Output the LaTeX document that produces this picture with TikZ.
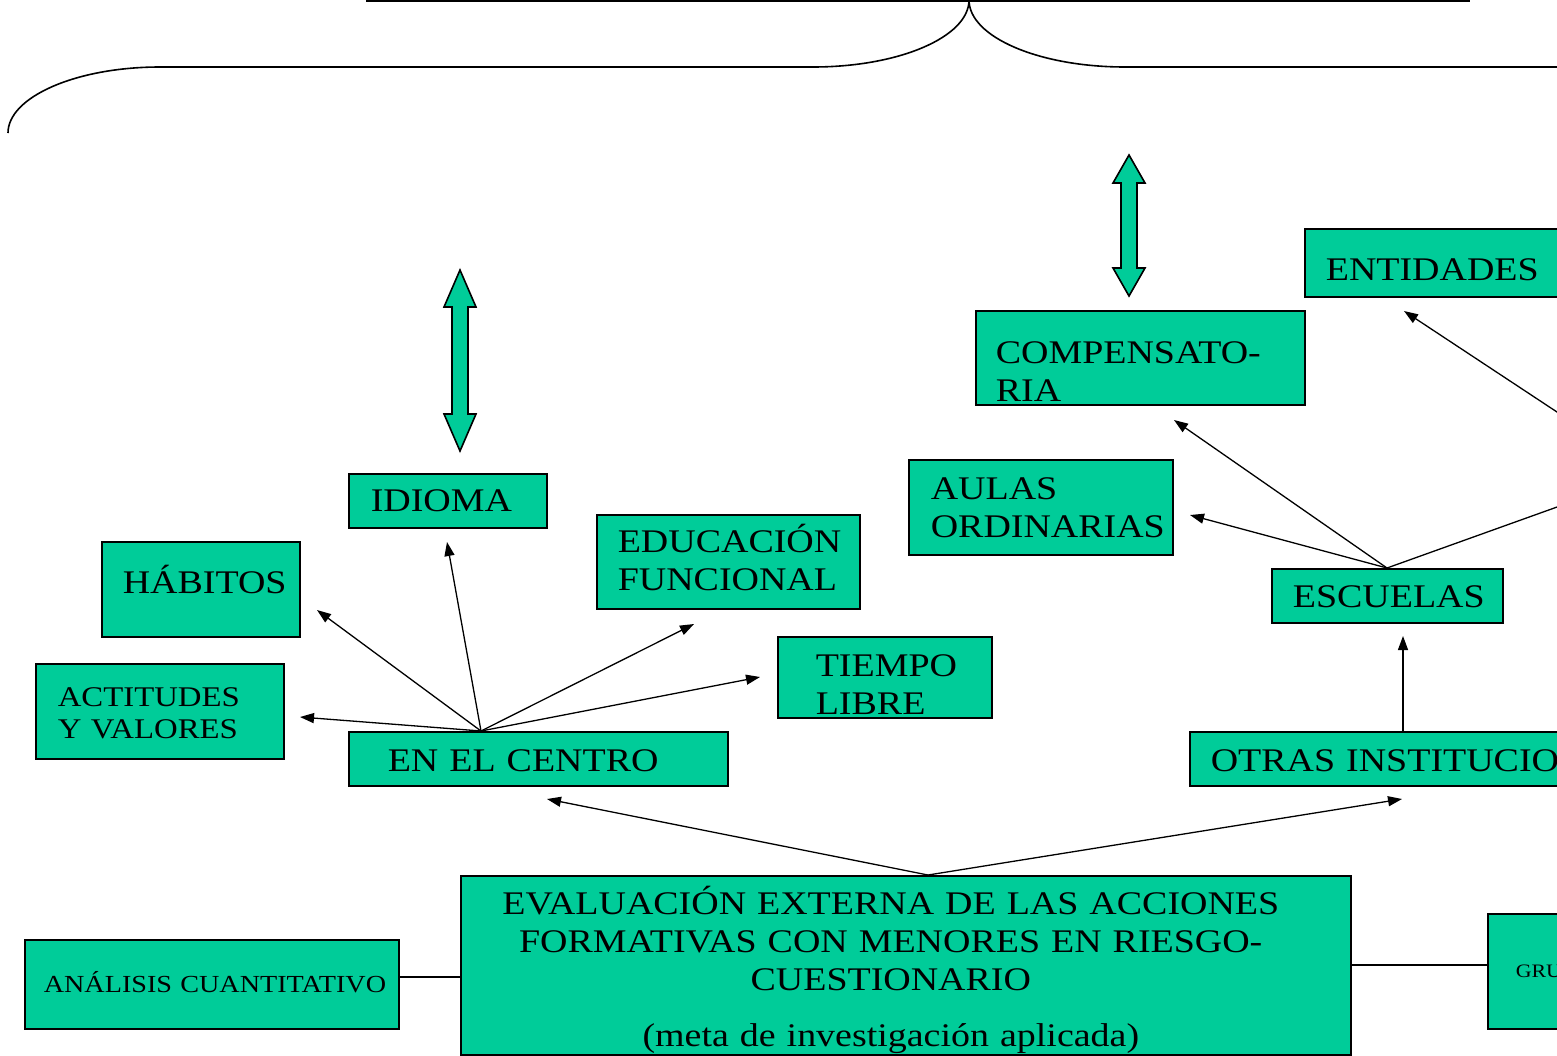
\documentclass[tikz,border=0pt]{standalone}
\usepackage{fontspec}
\setmainfont[FakeStretch=1.15]{Liberation Serif}
\usetikzlibrary{arrows.meta}
\definecolor{boxc}{RGB}{0,204,153}
\newcommand{\fbig}{\fontsize{33}{38}\selectfont}
\newcommand{\fmid}{\fontsize{28.5}{32}\selectfont}
\newcommand{\fsml}{\fontsize{24.5}{27}\selectfont}
\newcommand{\ftin}{\fontsize{19}{22}\selectfont}
\newcommand{\mline}[1]{\makebox[860pt][c]{#1}}
\tikzset{
  bx/.style={draw=black, line width=1.6pt, fill=boxc, anchor=north west, inner ysep=0pt, align=left, font=\fbig},
  con/.style={draw=black, line width=1.3pt},
  arr/.style={con, -{Triangle[length=14pt,width=10pt]}},
  dbl/.style={draw=black, line width=1.6pt, fill=boxc, line join=miter},
  brace/.style={draw=black, line width=1.6pt}
}
\begin{document}
\begin{tikzpicture}[x=1pt,y=-1pt]
\useasboundingbox (0,0) rectangle (1557,1055);
\clip (0,0) rectangle (1557,1055);
% top line and brace
\draw[line width=4pt] (366,0) -- (1470,0);
\coordinate (bt) at (969,0);
\draw[brace] (bt) .. controls (969,37) and (899,67) .. (813,67) -- (160,67)
  .. controls (76,67) and (8,97) .. (8,133);
\draw[brace] (bt) .. controls (969,37) and (1039,67) .. (1125,67) -- (1600,67);
% double arrows
\draw[dbl] (460,270) -- (476,307) -- (468,307) -- (468,414) -- (476,414) -- (460,451)
  -- (444,414) -- (452,414) -- (452,307) -- (444,307) -- cycle;
\draw[dbl] (1129,155) -- (1145,183) -- (1137,183) -- (1137,268) -- (1145,268) -- (1129,296)
  -- (1113,268) -- (1121,268) -- (1121,183) -- (1113,183) -- cycle;
% boxes
\node[bx, inner xsep=21pt, text width=258pt, text height=52pt, text depth=16pt] (ent) at (1304,228) {ENTIDADES};
\node[bx, inner xsep=20pt, text width=289pt, text height=53pt, text depth=41pt] (comp) at (975,310) {COMPENSATO-\\RIA};
\node[bx, inner xsep=22pt, text width=220pt, text height=40pt, text depth=55pt] (aulas) at (908,459) {AULAS\\ORDINARIAS};
\node[bx, inner xsep=21pt, text width=189pt, text height=39pt, text depth=15pt] (esc) at (1271,568) {ESCUELAS};
\node[bx, inner xsep=21pt, text width=358pt, text height=40pt, text depth=14pt] (otras) at (1189,731) {OTRAS INSTITUCIO};
\node[bx, inner xsep=28pt, text width=44pt, text height=64pt, text depth=51pt, font=\ftin] (gru) at (1487,913) {GRU};
\node[bx, inner xsep=0pt, text width=890pt, text height=39pt, text depth=140pt] (main) at (460,875)
  {\mline{EVALUACIÓN EXTERNA DE LAS ACCIONES}\\\mline{FORMATIVAS CON MENORES EN RIESGO-}\\\mline{CUESTIONARIO}\\[18pt]\mline{(meta de investigación aplicada)}};
\node[bx, inner xsep=19pt, text width=336pt, text height=53pt, text depth=36pt, font=\fsml] (anal) at (24,939) {\mbox{ANÁLISIS CUANTITATIVO}};
\node[bx, inner xsep=39pt, text width=301pt, text height=40pt, text depth=14pt] (centro) at (348,731) {EN EL CENTRO};
\node[bx, inner xsep=22pt, text width=204pt, text height=43pt, text depth=52pt, font=\fmid] (actit) at (35,663) {ACTITUDES\\Y VALORES};
\node[bx, inner xsep=21pt, text width=156pt, text height=52pt, text depth=43pt] (hab) at (101,541) {HÁBITOS};
\node[bx, inner xsep=22pt, text width=154pt, text height=38pt, text depth=16pt] (idio) at (348,473) {IDIOMA};
\node[bx, inner xsep=21pt, text width=221pt, text height=38pt, text depth=56pt] (educ) at (596,514) {EDUCACIÓN\\FUNCIONAL};
\node[bx, inner xsep=38pt, text width=138pt, text height=40pt, text depth=41pt] (tiempo) at (777,636) {TIEMPO\\LIBRE};
% connector points
\coordinate (cTop) at (481,731);
\coordinate (tActit) at (300,717);
\coordinate (tHab) at (317,610);
\coordinate (tIdio) at (447,542);
\coordinate (tEduc) at (694,624);
\coordinate (tTiempo) at (760,677);
\coordinate (mTop) at (928,875);
\coordinate (tCentro) at (547,799);
\coordinate (tOtras) at (1402,799);
\coordinate (oTop) at (1403,731);
\coordinate (tEsc) at (1403,636);
\coordinate (eTop) at (1387,568);
\coordinate (tComp) at (1174,420);
\coordinate (tAulas) at (1190,515);
\coordinate (eOff) at (1600,491.6);
\coordinate (entOff) at (1600,440.4);
\coordinate (tEnt) at (1404,311);
% connectors
\draw[arr] (cTop) -- (tActit);
\draw[arr] (cTop) -- (tHab);
\draw[arr] (cTop) -- (tIdio);
\draw[arr] (cTop) -- (tEduc);
\draw[arr] (cTop) -- (tTiempo);
\draw[arr] (mTop) -- (tCentro);
\draw[arr] (mTop) -- (tOtras);
\draw[arr] (oTop) -- (tEsc);
\draw[arr] (eTop) -- (tComp);
\draw[arr] (eTop) -- (tAulas);
\draw[con] (eTop) -- (eOff);
\draw[arr] (entOff) -- (tEnt);
\draw[con] (anal.east |- 0,977) -- (main.west |- 0,977);
\draw[con] (main.east |- 0,965) -- (gru.west |- 0,965);
\end{tikzpicture}
\end{document}
